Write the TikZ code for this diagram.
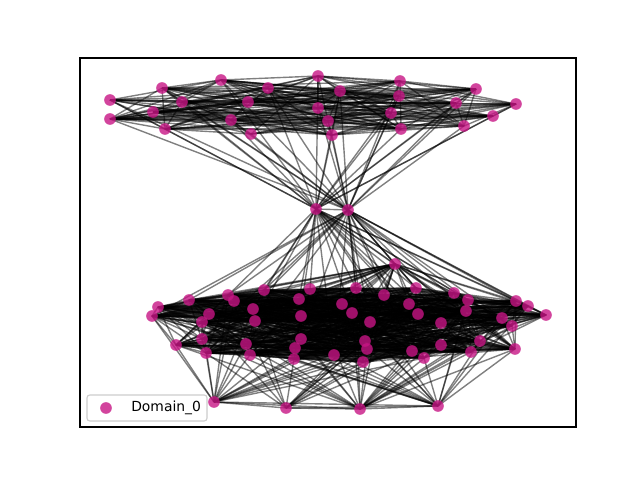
\documentclass[tikz,border=0pt]{standalone}
\usepackage{fontspec}
\setmainfont{DejaVu Sans}
\newfontfamily\legendfont{DejaVu Sans}
\definecolor{nodecol}{RGB}{199,21,133}
\definecolor{legendgray}{RGB}{204,204,204}
\pgfdeclarelayer{edges}
\pgfsetlayers{edges,main}
\tikzset{
	dot/.style={circle, fill=nodecol, fill opacity=0.8, inner sep=0pt, minimum size=8.4pt},
	edge/.style={black, opacity=0.5, line width=1pt},
}
% draw edge #1--#2 with probability #3
\newcommand{\maybeedge}[3]{%
	\pgfmathrnd
	\ifdim\pgfmathresult pt<#3pt \draw[edge] (#1.center) -- (#2.center);\fi
}
\begin{document}
\begin{tikzpicture}[x=0.72pt, y=-0.72pt]
	\useasboundingbox	(0, 0) rectangle (640, 480);
	\draw	[line width=0.8pt]	(80, 58) rectangle (576, 427);

	% upper group
	\foreach \x/\y [count=\n] in {110/100, 110/119, 162/88, 182/102, 153/112, 165/129, 221/80, 248/102,
		268/88, 231/120, 251/134, 318/76, 318/108, 328/121, 340/91, 332/135, 400/81, 399/96,
		391/113, 401/129, 476/89, 456/103, 493/116, 464/126, 516/104}
		\node	(t\n)	at	(\x, \y)	[dot]	{};
	% bridge
	\node	(m1)	at	(316, 209)	[dot]	{};
	\node	(m2)	at	(348, 210)	[dot]	{};
	% lower group
	\foreach \x/\y [count=\n] in {158/307, 152/316, 189/300, 209/314, 202/322, 202/339, 176/345, 206/353,
		228/295, 234/301, 253/309, 255/321, 264/290, 246/344, 250/355, 299/299, 310/289, 301/316,
		301/339, 295/348, 294/359, 334/355, 342/304, 395/264, 356/288, 352/313, 384/295, 370/322,
		416/288, 409/304, 418/314, 441/323, 454/293, 468/300, 466/311, 365/341, 367/349, 363/362,
		412/351, 424/358, 441/345, 471/352, 480/341, 502/318, 512/326, 516/301, 528/306, 546/315, 515/349}
		\node	(b\n)	at	(\x, \y)	[dot]	{};
	% bottom row
	\foreach \x/\y [count=\n] in {214/402, 286/408, 360/409, 438/406}
		\node	(r\n)	at	(\x, \y)	[dot]	{};

	\pgfmathsetseed{11}
	\begin{pgfonlayer}{edges}
		\foreach \i in {1,...,25}
			\foreach \j in {\i,...,25}
				{\ifnum\j>\i\relax \maybeedge{t\i}{t\j}{0.6}\fi}
		\foreach \i in {1,...,49}
			\foreach \j in {\i,...,49}
				{\ifnum\j>\i\relax \maybeedge{b\i}{b\j}{0.6}\fi}
		\foreach \i in {1,...,25}
			{\maybeedge{m1}{t\i}{0.7} \maybeedge{m2}{t\i}{0.7}}
		\foreach \i in {1,...,49}
			{\maybeedge{m1}{b\i}{0.5} \maybeedge{m2}{b\i}{0.5}}
		\foreach \k in {1,...,4}
			\foreach \i in {1,...,49}
				{\maybeedge{r\k}{b\i}{0.4}}
		\draw	[edge]	(m1.center) -- (m2.center);
		\draw	[edge]	(r1.center) -- (r2.center) -- (r3.center) -- (r4.center);
		\draw	[edge]	(r1.center) -- (r3.center);
		\draw	[edge]	(r2.center) -- (r4.center);
		\draw	[edge]	(r1.center) -- (r4.center);
	\end{pgfonlayer}

	% legend
	\draw	[draw=legendgray, fill=white, fill opacity=0.8, rounded corners=2pt, line width=0.8pt]	(87, 395) rectangle (207, 421);
	\node	(key)	at	(106, 408)	[dot]	{};
	\node	(keytext)	at	(131, 408)	[anchor=west, inner sep=0pt, font=\legendfont\fontsize{10pt}{12pt}\selectfont]	{Domain\_0};
\end{tikzpicture}
\end{document}
